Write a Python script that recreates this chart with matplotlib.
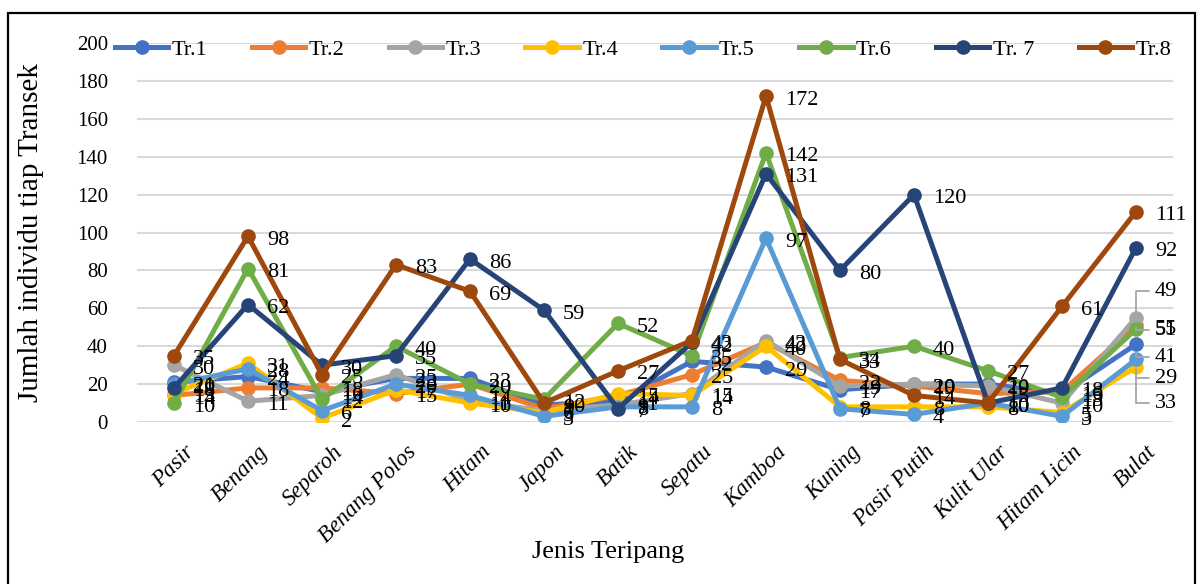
import numpy as np
import matplotlib
matplotlib.use('Agg')
import matplotlib.pyplot as plt
import matplotlib.transforms as mtransforms
from matplotlib.patches import Rectangle

plt.rcParams['font.family'] = ['Liberation Serif', 'DejaVu Serif']

# Data
jenis = ['Pasir', 'Benang', 'Separoh', 'Benang Polos', 'Hitam', 'Japon', 'Batik',
         'Sepatu', 'Kamboa', 'Kuning', 'Pasir Putih', 'Kulit Ular', 'Hitam Licin', 'Bulat']

tr1 = [21, 24, 16, 23, 23, 9, 11, 32, 29, 17, 20, 20, 15, 41]
tr2 = [14, 18, 18, 15, 20, 7, 14, 25, 42, 22, 19, 15, 16, 51]
tr3 = [30, 11, 14, 25, 11, 6, 9, 15, 43, 19, 20, 19, 10, 55]
tr4 = [15, 31, 2, 17, 10, 5, 15, 14, 40, 8, 8, 8, 5, 29]
tr5 = [20, 28, 6, 20, 14, 3, 8, 8, 97, 7, 4, 10, 3, 33]
tr6 = [10, 81, 12, 40, 20, 12, 52, 35, 142, 34, 40, 27, 13, 49]
tr7 = [18, 62, 30, 35, 86, 59, 7, 42, 131, 80, 120, 10, 18, 92]
tr8 = [35, 98, 25, 83, 69, 10, 27, 43, 172, 33, 14, 10, 61, 111]

series = [tr1, tr2, tr3, tr4, tr5, tr6, tr7, tr8]
names = ['Tr.1', 'Tr.2', 'Tr.3', 'Tr.4', 'Tr.5', 'Tr.6', 'Tr. 7', 'Tr.8']
colors = ['#4472C4', '#ED7D31', '#A5A5A5', '#FFC000', '#5B9BD5', '#70AD47', '#264478', '#9E480E']

W, H = 1201, 584
fig = plt.figure(figsize=(W / 100, H / 100), dpi=100)
ax = fig.add_axes([137 / W, 1 - 422 / H, (1173 - 137) / W, (422 - 43) / H])

x = np.arange(len(jenis))
for vals, nm, c in zip(series, names, colors):
    ax.plot(x, vals, '-o', color=c, lw=3.6, ms=9.5, label=nm,
            solid_joinstyle='round', zorder=3)

# data labels (pixel offsets), last category labels are moved with leader lines
bulat_off = {'Tr.6': -38, 'Tr.3': 12, 'Tr.2': 5, 'Tr.1': 13, 'Tr.4': 11, 'Tr.5': 44}
leader = ['Tr.6', 'Tr.3', 'Tr.1', 'Tr.4', 'Tr.5']
for vals, nm in zip(series, names):
    for i, v in enumerate(vals):
        dy = -4
        kw = {}
        if i == len(jenis) - 1 and nm in bulat_off:
            dy = -bulat_off[nm]
            if nm in leader:
                kw['arrowprops'] = dict(arrowstyle='-', color='#A6A6A6', lw=1.3,
                                        shrinkA=2, shrinkB=7, relpos=(0, 0.5),
                                        connectionstyle='angle,angleA=0,angleB=90,rad=0')
        ax.annotate(str(v), (i, v), xytext=(19, dy), textcoords='offset pixels',
                    ha='left', va='center', fontsize=16, color='black', zorder=5, **kw)

ax.set_xlim(-0.5, len(jenis) - 0.5)
ax.set_ylim(0, 200)
ax.set_yticks(np.arange(0, 201, 20))
ax.grid(axis='y', color='#D9D9D9', lw=1.5, zorder=0)
ax.set_axisbelow(True)
for s in ax.spines.values():
    s.set_visible(False)
ax.tick_params(axis='both', length=0)
ax.tick_params(axis='y', labelsize=15, pad=21)
ax.set_xticks(x)
ax.set_xticklabels(jenis, rotation=45, ha='right', rotation_mode='anchor',
                   fontsize=16.5, style='italic')
ax.tick_params(axis='x', pad=14)
shift = mtransforms.ScaledTranslation(0.1, 0, fig.dpi_scale_trans)
for lab in ax.get_xticklabels():
    lab.set_transform(lab.get_transform() + shift)

ax.set_ylabel('Jumlah individu tiap Transek', fontsize=21)
ax.yaxis.set_label_coords(-0.09, 0.5)
ax.set_xlabel('Jenis Teripang', fontsize=19)
ax.xaxis.set_label_coords(0.455, -0.315)

fig.legend(loc='center', bbox_to_anchor=(643 / W, 1 - 50 / H), ncol=8, frameon=False,
           fontsize=16, handlelength=2.4, handletextpad=0.15, columnspacing=2.0)

fig.add_artist(Rectangle((8 / W, -0.05), (1195 - 8) / W, 1.05 - 13 / H,
                         transform=fig.transFigure, fill=False, ec='black', lw=1.6))

fig.savefig('out.png', dpi=100)
